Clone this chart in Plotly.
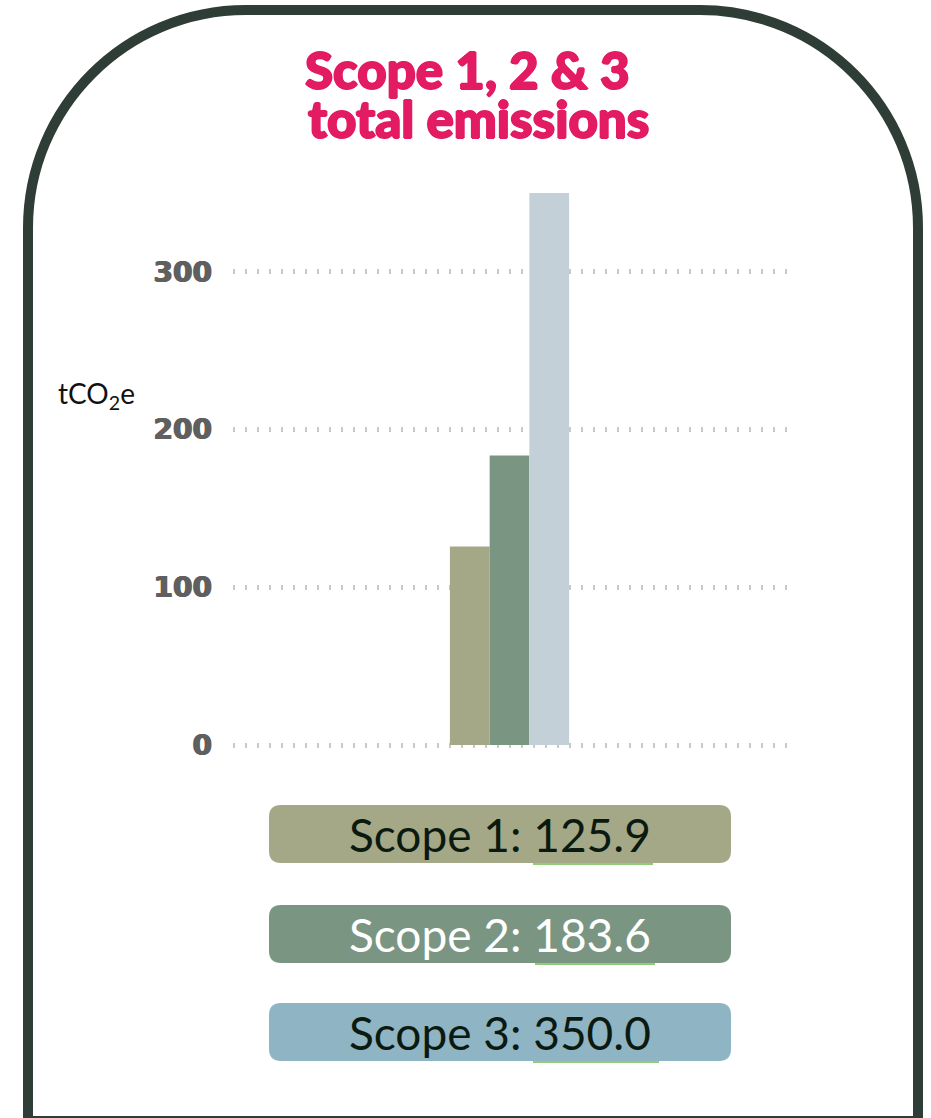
import plotly.graph_objects as go

# ---- data ----
categories = ["Total"]
series_names = ["Scope 1", "Scope 2", "Scope 3"]
series_values = [125.9, 183.6, 350.0]
bar_colors = ["#a5a886", "#7a9682", "#c3d0d7"]
box_colors = ["#a5a886", "#7a9682", "#8fb4c3"]
box_text_colors = ["#0b1a10", "#ffffff", "#0b1a10"]
y_ticks = [0, 100, 200, 300]
y_ticklabels = ["0", "100", "200", "300"]
title_lines = ["Scope 1, 2 & 3", "total emissions"]
y_label = "tCO<sub>2</sub>e"

W, H = 931, 1118
plot_left, plot_right = 233, 790
y0_px, px_per_unit = 745, 1.577
y_min, y_max = -4, 380
y_bot_px = y0_px - y_min * px_per_unit
y_top_px = y0_px - y_max * px_per_unit


def fx(x):
    return x / W


def fy(y):
    return 1 - y / H


fig = go.Figure()
for name, val, col in zip(series_names, series_values, bar_colors):
    fig.add_trace(go.Bar(x=categories, y=[val], name=name, marker=dict(color=col, line=dict(width=0)),
                         hoverinfo="y+name"))

shapes = []
# frame (rounded top corners)
R = 218
L, Rt, T, B = 28, 918, 10, 1121
k = 0.5523
pts = [("M", [(L, B)]), ("L", [(L, T + R)]),
       ("C", [(L, T + R - k * R), (L + R - k * R, T), (L + R, T)]),
       ("L", [(Rt - R, T)]),
       ("C", [(Rt - R + k * R, T), (Rt, T + R - k * R), (Rt, T + R)]),
       ("L", [(Rt, B)])]
path = " ".join(cmd + " " + " ".join(f"{fx(a):.5f},{fy(b):.5f}" for a, b in pp) for cmd, pp in pts) + " Z"
shapes.append(dict(type="path", path=path, xref="paper", yref="paper",
                   line=dict(color="#2e3d36", width=10), fillcolor="rgba(0,0,0,0)", layer="below"))

# legend boxes
box_x0, box_x1 = 269, 731
box_tops = [805, 905, 1003]
box_h = 58
r = 12
annotations = []
underline_spans = [(533, 653), (535, 655), (533, 659)]
for i, (name, val) in enumerate(zip(series_names, series_values)):
    y0 = box_tops[i]
    y1 = y0 + box_h
    x0, x1 = box_x0, box_x1
    seq = [("M", [(x0 + r, y0)]), ("L", [(x1 - r, y0)]), ("Q", [(x1, y0), (x1, y0 + r)]),
           ("L", [(x1, y1 - r)]), ("Q", [(x1, y1), (x1 - r, y1)]), ("L", [(x0 + r, y1)]),
           ("Q", [(x0, y1), (x0, y1 - r)]), ("L", [(x0, y0 + r)]), ("Q", [(x0, y0), (x0 + r, y0)])]
    p = " ".join(cmd + " " + " ".join(f"{fx(a):.5f},{fy(b):.5f}" for a, b in pp) for cmd, pp in seq) + " Z"
    shapes.append(dict(type="path", path=p, xref="paper", yref="paper", line=dict(width=0),
                       fillcolor=box_colors[i], layer="above"))
    ux0, ux1 = underline_spans[i]
    shapes.append(dict(type="line", x0=fx(ux0), x1=fx(ux1), y0=fy(y1 + 1), y1=fy(y1 + 1),
                       xref="paper", yref="paper", line=dict(color="#6cbb4e", width=1.5), layer="above"))
    annotations.append(dict(text=f"{name}: {val:.1f}", x=fx((x0 + x1) / 2), y=fy((y0 + y1) / 2),
                            xref="paper", yref="paper", showarrow=False, xanchor="center", yanchor="middle",
                            font=dict(family="Lato", size=46, color=box_text_colors[i])))

# title
tc = "#e31b62"
title_font = dict(family="Lato", size=51, weight=900, color=tc,
                  shadow=f"1px 0 0 {tc}, -1px 0 0 {tc}, 0 1px 0 {tc}, 0 -1px 0 {tc}")
annotations.append(dict(text=title_lines[0], x=fx(467), y=fy(70), xref="paper", yref="paper",
                        showarrow=False, xanchor="center", yanchor="middle", font=title_font))
annotations.append(dict(text=title_lines[1], x=fx(478), y=fy(119), xref="paper", yref="paper",
                        showarrow=False, xanchor="center", yanchor="middle", font=title_font))
# y label
annotations.append(dict(text=y_label, x=fx(56), y=fy(395), xref="paper", yref="paper", showarrow=False,
                        xanchor="left", yanchor="middle",
                        font=dict(family="Lato", size=28, color="#111111")))

fig.update_layout(
    width=W, height=H,
    margin=dict(l=0, r=0, t=0, b=0, pad=0, autoexpand=False),
    paper_bgcolor="white", plot_bgcolor="rgba(0,0,0,0)",
    showlegend=False,
    barmode="group", bargap=0.786, bargroupgap=0,
    xaxis=dict(domain=[plot_left / W, plot_right / W], range=[-0.4964, 0.5036], showgrid=False,
               zeroline=False, showticklabels=False, showline=False, fixedrange=True,
               automargin=False),
    yaxis=dict(domain=[(H - y_bot_px) / H, (H - y_top_px) / H], range=[y_min, y_max],
               tickvals=y_ticks, ticktext=y_ticklabels, showgrid=True,
               gridcolor="#c9c9c9", gridwidth=5, griddash="2px,10px",
               zeroline=False, showline=False, ticks="", ticklabelstandoff=20,
               tickfont=dict(family="DejaVu Sans", size=28, weight="bold", color="#5f5f5f",
                             shadow="0.7px 0 0 #5f5f5f, -0.7px 0 0 #5f5f5f"),
               fixedrange=True, automargin=False),
    shapes=shapes,
    annotations=annotations,
)

fig.write_html("out.html", config={"displayModeBar": False, "responsive": False},
               post_script="document.documentElement.style.overflow='hidden';"
                           "document.body.style.margin='0';document.body.style.overflow='hidden';"
                           "var d=document.getElementById('{plot_id}');"
                           "d.style.position='fixed';d.style.top='0px';d.style.left='0px';")
